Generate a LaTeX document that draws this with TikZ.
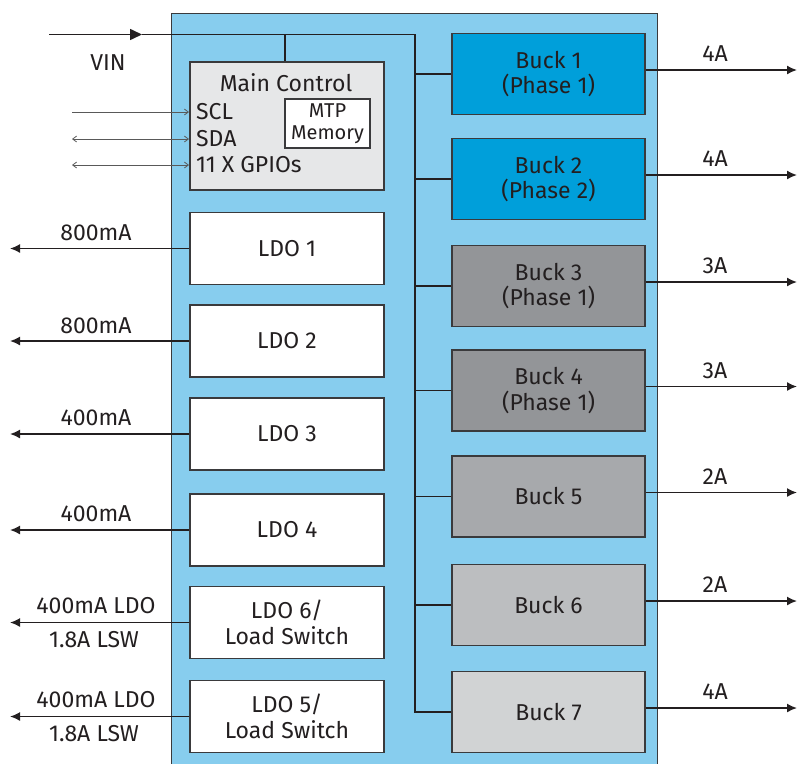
\documentclass[tikz,border=0pt]{standalone}
\usepackage{fontspec}
\setmainfont{Fira Sans}
\usetikzlibrary{arrows.meta}
\definecolor{bgblue}{HTML}{87CDEE}
\definecolor{buckblue}{HTML}{009FDA}
\definecolor{gA}{HTML}{939598}
\definecolor{gB}{HTML}{A7A9AC}
\definecolor{gC}{HTML}{BCBEC0}
\definecolor{gD}{HTML}{D1D3D4}
\definecolor{mcgray}{HTML}{E6E7E8}
\definecolor{ink}{HTML}{231F20}
\definecolor{edge}{HTML}{3A3A3C}
\begin{document}
\begin{tikzpicture}[x=1pt,y=-1pt,
  txt/.style={font=\fontsize{23}{25.5}\selectfont, text=ink, inner sep=0pt, align=center},
  box/.style={draw=edge, line width=1.6pt, minimum width=193pt, inner sep=0pt, txt},
  ldobox/.style={box, fill=white, minimum width=194pt, minimum height=72pt},
  buckbox/.style={box, minimum height=81pt},
  wire/.style={draw=ink, line width=1.6pt},
  outarrow/.style={wire, -{Latex[length=10pt,width=9pt]}},
  sig/.style={draw=black!65, line width=0.8pt},
  lbl/.style={txt}]
\useasboundingbox (0,0) rectangle (797,763);
\clip (0,0) rectangle (797,763);
% chip background
\path[fill=bgblue, draw=edge, line width=1pt] (171,13) rectangle (657,775);

% main control
\node[box, fill=mcgray, minimum width=194pt, minimum height=128pt] (mc) at (287,126) {};
\node[txt] (mctitle) at (286,83) {Main Control};
\node[txt, anchor=west] (scl) at (196,112) {SCL};
\node[txt, anchor=west] (sda) at (196,139) {SDA};
\node[txt, anchor=west] (gpio) at (196,165) {11 X GPIOs};
\node[draw=edge, line width=1.4pt, fill=white, minimum width=85pt, minimum height=49pt, inner sep=0pt,
      font=\fontsize{20}{21.5}\selectfont, text=ink, align=center] (mtp) at (327.5,123.5) {MTP\\Memory};

\coordinate (sclL) at (72,112);
\coordinate (sdaL) at (72,139);
\coordinate (gpioL) at (72,165);
\coordinate (sclR) at (189,112);
\coordinate (sdaR) at (189,139);
\coordinate (gpioR) at (189,165);
\draw[sig, -{Straight Barb[length=4pt,width=6pt]}] (sclL) -- (sclR);
\draw[sig, {Straight Barb[length=4pt,width=6pt]}-{Straight Barb[length=4pt,width=6pt]}] (sdaL) -- (sdaR);
\draw[sig, {Straight Barb[length=4pt,width=6pt]}-{Straight Barb[length=4pt,width=6pt]}] (gpioL) -- (gpioR);

% LDOs
\node[ldobox] (l1) at (287,248.5) {LDO 1};
\node[ldobox] (l2) at (287,341) {LDO 2};
\node[ldobox] (l3) at (287,434) {LDO 3};
\node[ldobox] (l4) at (287,530) {LDO 4};
\node[ldobox] (l6) at (287,622.5) {LDO 6/\\Load Switch};
\node[ldobox] (l5) at (287,716.5) {LDO 5/\\Load Switch};

\foreach \n/\y in {l1/248.5,l2/341,l3/434,l4/530,l6/622.5,l5/716.5}{
  \coordinate (\n o) at (10,\y);
  \draw[outarrow] (\n.west) -- (\n o);
}
\node[lbl] (t1) at (96,233) {800mA};
\node[lbl] (t2) at (96,326) {800mA};
\node[lbl] (t3) at (96,418) {400mA};
\node[lbl] (t4) at (96,514) {400mA};
\node[lbl] (t6a) at (96,606) {400mA LDO};
\node[lbl] (t6b) at (94,640) {1.8A LSW};
\node[lbl] (t5a) at (96,700) {400mA LDO};
\node[lbl] (t5b) at (94,734) {1.8A LSW};

% Bucks
\node[buckbox, fill=buckblue] (b1) at (548.5,74) {Buck 1\\(Phase 1)};
\node[buckbox, fill=buckblue] (b2) at (548.5,179) {Buck 2\\(Phase 2)};
\node[buckbox, fill=gA] (b3) at (548.5,286) {Buck 3\\(Phase 1)};
\node[buckbox, fill=gA] (b4) at (548.5,390.5) {Buck 4\\(Phase 1)};
\node[buckbox, fill=gB] (b5) at (548.5,496.5) {Buck 5};
\node[buckbox, fill=gC] (b6) at (548.5,605) {Buck 6};
\node[buckbox, fill=gD] (b7) at (548.5,712) {Buck 7};

% VIN and bus
\coordinate (vin) at (49,34.5);
\coordinate (vinarr) at (142,34.5);
\coordinate (busTop) at (415,34.5);
\coordinate (mcTap) at (285,34.5);
\node[txt] (vinlbl) at (108,63) {VIN};
\draw[wire, -{Triangle[length=12pt,width=11pt]}] (vin) -- (vinarr);
\draw[wire] (vinarr) -- (busTop) -- (busTop |- b7.west) -- (b7.west);
\draw[wire] (mcTap) -- (mcTap |- mc.north);
\foreach \b in {b1,b2,b3,b4,b5,b6}{
  \draw[wire] (busTop |- \b.west) -- (\b.west);
}

% outputs
\foreach \b/\l in {b1/4A,b2/4A,b3/3A,b4/3A,b5/2A,b6/2A,b7/4A}{
  \coordinate (\b o) at ([yshift=4pt]\b.east -| 797,0);
  \draw[outarrow] ([yshift=4pt]\b.east) -- (\b o);
  \node[lbl] (\b l) at ([xshift=-82pt,yshift=16pt]\b o) {\l};
}
\end{tikzpicture}
\end{document}
